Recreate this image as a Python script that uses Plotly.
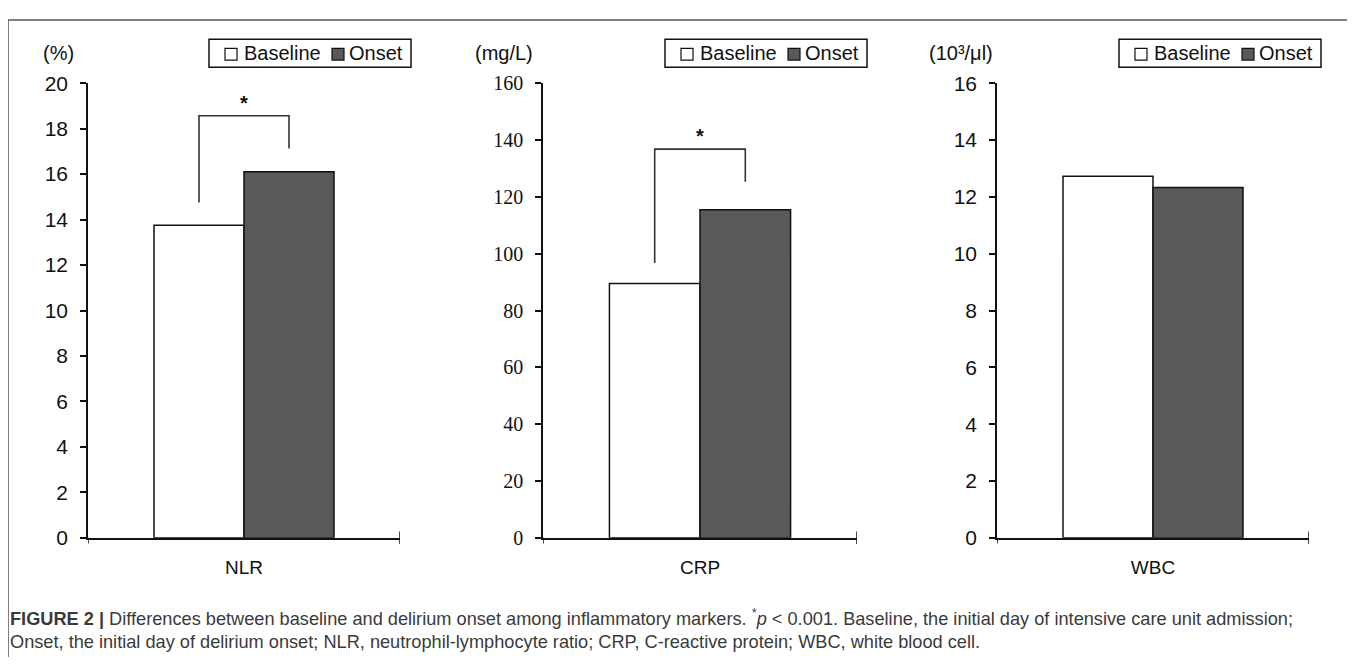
import plotly.graph_objects as go

# ---------------- data ----------------
markers = ["NLR", "CRP", "WBC"]
units = ["(%)", "(mg/L)", "(10³/μl)"]
series_names = ["Baseline", "Onset"]
series_fill = ["white", "#595959"]
baseline_vals = [13.75, 89.5, 12.73]
onset_vals = [16.1, 115.5, 12.33]
y_max = [20, 160, 16]
y_step = [2, 20, 2]
sig_labels = ["*", "*", ""]
# significance bracket: [left leg bottom, bracket top, right leg bottom]
brackets = [[14.75, 18.57, 17.13], [96.7, 136.8, 125.3], None]
caption_line1 = ("<b>FIGURE 2 |</b> Differences between baseline and delirium onset among inflammatory markers. "
                 "<sup>*</sup><i>p</i> &lt; 0.001. Baseline, the initial day of intensive care unit admission;")
caption_line2 = ("Onset, the initial day of delirium onset; NLR, neutrophil-lymphocyte ratio; "
                 "CRP, C-reactive protein; WBC, white blood cell.")

# ---------------- layout geometry (screen pixels) ----------------
OFF = 8                      # page body margin
W, H = 1355 - OFF, 668 - OFF  # figure size so that it fits the window
x_px = [(88, 400), (543, 857), (997, 1309)]
y_bot_px, y_top_px = 544.5, 73.5
legend_left = [209, 665, 1119]
legend_top, legend_bot = 28, 57
key_offsets = [(16, 34), (123, 139)]   # (square left, text left) from box left
unit_cx = [58, 504, 961]
tick_fonts = ["Liberation Sans", "Liberation Serif", "Liberation Sans"]
tick_sizes = [21, 20, 21]
group_frac = 180 / 312
bw = group_frac / 2


def px(p):
    return (p - OFF) / W


def py(p):
    return 1 - (p - OFF) / H


fig = go.Figure()
layout_axes = {}
annotations = []
shapes = []

for i, name in enumerate(markers):
    xa = "x" if i == 0 else f"x{i+1}"
    ya = "y" if i == 0 else f"y{i+1}"
    fig.add_trace(go.Bar(x=[0], y=[baseline_vals[i]], name=series_names[0], width=bw, offset=-bw,
                         marker=dict(color=series_fill[0], line=dict(color="#111", width=1.5)),
                         xaxis=xa, yaxis=ya, showlegend=False))
    fig.add_trace(go.Bar(x=[0], y=[onset_vals[i]], name=series_names[1], width=bw, offset=0,
                         marker=dict(color=series_fill[1], line=dict(color="#111", width=1.5)),
                         xaxis=xa, yaxis=ya, showlegend=False))
    b = brackets[i]
    if b is not None:
        fig.add_trace(go.Scatter(x=[-bw / 2, -bw / 2, bw / 2, bw / 2], y=[b[0], b[1], b[1], b[2]],
                                 mode="lines", line=dict(color="#333", width=1.6),
                                 xaxis=xa, yaxis=ya, showlegend=False, hoverinfo="skip"))
        annotations.append(dict(x=0, y=b[1], xref=xa, yref=ya, text="<b>" + sig_labels[i] + "</b>",
                                showarrow=False, yanchor="bottom", yshift=0,
                                font=dict(family="Liberation Sans", size=20, color="#111")))
    x0, x1 = x_px[i]
    layout_axes["xaxis" if i == 0 else f"xaxis{i+1}"] = dict(
        domain=[px(x0), px(x1)], range=[-0.5, 0.5], anchor=ya,
        tickvals=[0], ticktext=[name], ticks="", showline=True, linecolor="#111", linewidth=1.5,
        showgrid=False, zeroline=False, ticklabelstandoff=12,
        tickfont=dict(family="Liberation Sans", size=19, color="#111"), fixedrange=True)
    layout_axes["yaxis" if i == 0 else f"yaxis{i+1}"] = dict(
        domain=[py(y_bot_px), py(y_top_px)], range=[0, y_max[i]], anchor=xa,
        tickmode="linear", tick0=0, dtick=y_step[i], ticks="outside", ticklen=6, tickwidth=1.5,
        tickcolor="#111", showline=True, linecolor="#111", linewidth=1.5, showgrid=False,
        zeroline=False, ticklabelstandoff=8,
        tickfont=dict(family=tick_fonts[i], size=tick_sizes[i], color="#111"), fixedrange=True)
    # x-axis end ticks (cross style)
    shapes.append(dict(type="line", xref=xa, yref="paper", x0=-0.5, x1=-0.5,
                       y0=py(y_bot_px), y1=py(y_bot_px + 6), line=dict(color="#111", width=1.5)))
    shapes.append(dict(type="line", xref=xa, yref="paper", x0=0.5, x1=0.5,
                       y0=py(y_bot_px - 6.5), y1=py(y_bot_px + 6.5), line=dict(color="#111", width=1.5)))
    # unit label
    annotations.append(dict(x=px(unit_cx[i]), y=py(42), xref="paper", yref="paper", text=units[i],
                            showarrow=False, xanchor="center", yanchor="middle",
                            font=dict(family="Liberation Sans", size=20, color="#111")))
    # legend box with keys
    L = legend_left[i]
    shapes.append(dict(type="rect", xref="paper", yref="paper", x0=px(L), x1=px(L + 202),
                       y0=py(legend_bot), y1=py(legend_top), line=dict(color="#111", width=1.5),
                       fillcolor="rgba(0,0,0,0)"))
    for k in range(2):
        sq_l, tx_l = key_offsets[k]
        shapes.append(dict(type="rect", xref="paper", yref="paper", x0=px(L + sq_l), x1=px(L + sq_l + 12),
                           y0=py(49.5), y1=py(37.5), line=dict(color="#111", width=1.2),
                           fillcolor=series_fill[k]))
        annotations.append(dict(x=px(L + tx_l), y=py(42.5), xref="paper", yref="paper",
                                text=series_names[k], showarrow=False, xanchor="left", yanchor="middle",
                                xshift=-1, font=dict(family="Liberation Sans", size=20, color="#111")))

# caption
annotations.append(dict(x=px(8), y=py(627), xref="paper", yref="paper", text=caption_line1,
                        showarrow=False, xanchor="left", yanchor="middle",
                        font=dict(family="Liberation Sans", size=18.2, color="#3a3a3a")))
annotations.append(dict(x=px(8), y=py(652), xref="paper", yref="paper", text=caption_line2,
                        showarrow=False, xanchor="left", yanchor="middle",
                        font=dict(family="Liberation Sans", size=18.2, color="#3a3a3a")))

# frame (top and left edges)
shapes.append(dict(type="line", xref="paper", yref="paper", x0=0, x1=1, y0=py(8), y1=py(8),
                   line=dict(color="#555", width=1.5)))
shapes.append(dict(type="line", xref="paper", yref="paper", x0=0, x1=0, y0=py(8), y1=0,
                   line=dict(color="#555", width=1.5)))

fig.update_layout(width=W, height=H, autosize=False, margin=dict(l=0, r=0, t=0, b=0),
                  paper_bgcolor="white", plot_bgcolor="white", barmode="overlay",
                  annotations=annotations, shapes=shapes, **layout_axes)

fig.write_html("out.html", config={"displayModeBar": False})
